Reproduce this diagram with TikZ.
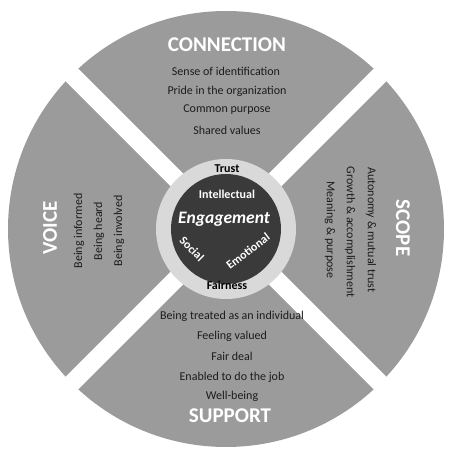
\documentclass[tikz,border=0pt]{standalone}
\usepackage{fontspec}
\setmainfont{Carlito}
\definecolor{sector}{RGB}{155,155,155}
\definecolor{ring}{RGB}{217,217,217}
\definecolor{core}{RGB}{58,58,58}
\definecolor{itemtext}{RGB}{28,28,28}

\begin{document}
\begin{tikzpicture}[x=1pt,y=1pt,
  head/.style={white,inner sep=1pt,font=\fontsize{21}{24}\selectfont\bfseries},
  item/.style={itemtext,inner sep=0.5pt,font=\fontsize{12}{14}\selectfont},
  inner/.style={inner sep=0.5pt,font=\fontsize{12}{14}\selectfont\bfseries}]
\useasboundingbox (-226,-228) rectangle (248,229);
% Quarters:
\fill[sector] (0,0) circle (218);
\draw[white,line width=18] (-170,-170) -- (170,170);
\draw[white,line width=18] (-170,170) -- (170,-170);
% Centre:
\fill[ring] (0,0) circle (70);
\fill[core] (0,0) circle (55);
\node (Trust) [inner] at (1,60) {Trust};
\node (Fair) [inner] at (1,-56) {Fairness};
\node (Intel) [inner,white] at (1,35) {Intellectual};
\node (Engage) [white,inner sep=0.5pt,font=\fontsize{17.5}{20}\selectfont\bfseries\itshape] at (-2,10) {Engagement};
\node (Social) [inner,white,rotate=-45] at (-34,-20) {Social};
\node (Emot) [inner,white,rotate=37] at (22,-22) {Emotional};
% Connection:
\node (Conn) [head] at (1,184) {CONNECTION};
\node (Ident) [item] at (0,158) {Sense of identification};
\node (Pride) [item] at (1,138) {Pride in the organization};
\node (Common) [item] at (1,119) {Common purpose};
\node (Shared) [item] at (1,99) {Shared values};
% Scope:
\node (Scope) [head,rotate=-90] at (177,1) {SCOPE};
\node (Auton) [item,rotate=-90] at (145,-1) {Autonomy \& mutual trust};
\node (Growth) [item,rotate=-90] at (124,-3) {Growth \& accomplishment};
\node (Mean) [item,rotate=-90] at (104,-1) {Meaning \& purpose};
% Voice:
\node (Voice) [head,rotate=90] at (-176,1) {VOICE};
\node (Inform) [item,rotate=90] at (-147,-2) {Being informed};
\node (Heard) [item,rotate=90] at (-127,-2) {Being heard};
\node (Involv) [item,rotate=90] at (-107,-2) {Being involved};
% Support:
\node (Treat) [item] at (6,-87) {Being treated as an individual};
\node (Valued) [item] at (6,-107) {Feeling valued};
\node (Deal) [item] at (6,-127) {Fair deal};
\node (Enable) [item] at (6,-148) {Enabled to do the job};
\node (Well) [item] at (6,-167) {Well-being};
\node (Supp) [head] at (4,-187) {SUPPORT};
\end{tikzpicture}
\end{document}
